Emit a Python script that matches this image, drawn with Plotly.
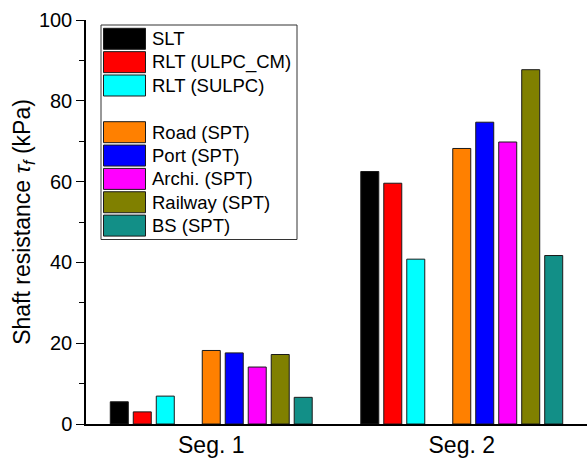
import plotly.graph_objects as go

categories = ["Seg. 1", "Seg. 2"]
series_names = ["SLT", "RLT (ULPC_CM)", "RLT (SULPC)", "",
                "Road (SPT)", "Port (SPT)", "Archi. (SPT)", "Railway (SPT)", "BS (SPT)"]
series_values = [
    [5.5, 62.5],
    [3.0, 59.6],
    [6.9, 40.8],
    [0, 0],
    [18.2, 68.2],
    [17.6, 74.7],
    [14.1, 69.8],
    [17.2, 87.7],
    [6.6, 41.7],
]
series_colors = ["#000000", "#FF0000", "#00FFFF", "rgba(0,0,0,0)",
                 "#FF8000", "#0000FF", "#FF00FF", "#808000", "#128F87"]
y_ticks = [0, 20, 40, 60, 80, 100]

W, H = 587, 459
ML, MR, MT, MB = 86, 0, 20, 35
FONT = "Liberation Sans, Arial, sans-serif"

fig = go.Figure()
for name, vals, col in zip(series_names, series_values, series_colors):
    empty = name == ""
    fig.add_trace(go.Bar(
        x=categories, y=vals, name=name if name else "spacer",
        marker=dict(color=col,
                    line=dict(color="rgba(0,0,0,0)" if empty else "#1a1a1a",
                              width=0 if empty else 1)),
        showlegend=False, hoverinfo="skip" if empty else None,
    ))

# custom legend (box-like swatches), built from the series lists
pw, ph = W - ML - MR, H - MT - MB
def px2x(px):
    return (px - ML) / pw
def px2y(py):
    return (H - MB - py) / ph

shapes = [dict(type="rect", xref="paper", yref="paper",
               x0=px2x(101), x1=px2x(297), y0=px2y(239.5), y1=px2y(25),
               line=dict(color="#333333", width=1), fillcolor="white", layer="above")]
annotations = []
row0, pitch, sh = 28.3, 23.35, 21
for i, (name, col) in enumerate(zip(series_names, series_colors)):
    if name == "":
        continue
    top = row0 + pitch * i
    shapes.append(dict(type="rect", xref="paper", yref="paper",
                       x0=px2x(103.5), x1=px2x(145.5), y0=px2y(top + sh), y1=px2y(top),
                       fillcolor=col, line=dict(color="#1a1a1a", width=1), layer="above"))
    annotations.append(dict(xref="paper", yref="paper", x=px2x(150), y=px2y(top + sh / 2),
                            text=name, showarrow=False, xanchor="left", yanchor="middle",
                            font=dict(family=FONT, size=18.5, color="black")))

fig.update_layout(
    width=W, height=H,
    margin=dict(l=ML, r=MR, t=MT, b=MB, pad=0),
    paper_bgcolor="white", plot_bgcolor="white",
    barmode="group", bargap=0.174, bargroupgap=0.217,
    showlegend=False,
    shapes=shapes, annotations=annotations,
    font=dict(family=FONT, color="black"),
)
fig.update_xaxes(
    range=[-0.5, 1.5], showline=True, linecolor="black", linewidth=1.5,
    ticks="", tickfont=dict(family=FONT, size=23, color="black"),
    showgrid=False, zeroline=False,
)
fig.update_yaxes(
    range=[0, 100], tickvals=y_ticks, showline=True, linecolor="black", linewidth=1.5,
    ticks="outside", ticklen=8, tickwidth=1.3, tickcolor="black",
    minor=dict(dtick=10, ticks="outside", ticklen=5, tickwidth=1.3, tickcolor="black", showgrid=False),
    tickfont=dict(family=FONT, size=20, color="black"),
    showgrid=False, zeroline=False,
    title=dict(text="Shaft resistance <i>τ</i><sub><i>f</i></sub> (kPa)",
               font=dict(family=FONT, size=23, color="black"), standoff=2),
)

fig.write_html("out.html")
